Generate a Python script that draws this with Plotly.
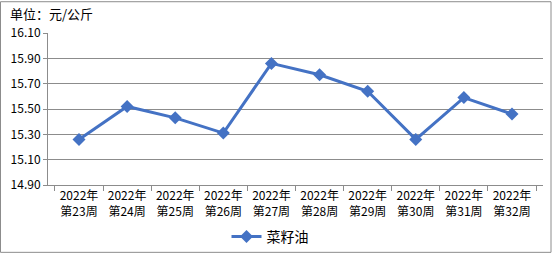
import plotly.graph_objects as go

categories = ["2022年<br>第23周", "2022年<br>第24周", "2022年<br>第25周", "2022年<br>第26周",
              "2022年<br>第27周", "2022年<br>第28周", "2022年<br>第29周", "2022年<br>第30周",
              "2022年<br>第31周", "2022年<br>第32周"]
rapeseed_oil = [15.26, 15.52, 15.43, 15.31, 15.86, 15.77, 15.64, 15.26, 15.59, 15.46]
y_ticks = [14.90, 15.10, 15.30, 15.50, 15.70, 15.90, 16.10]

W, H = 552, 262
L, R, T, B = 48, 9, 33, 71
pw, ph = W - L - R, H - T - B

def px(x):
    return (x - L) / pw

def py(y):
    return (H - B - y) / ph

font = "Noto Sans CJK SC, SimSun, sans-serif"
color = "#4472C4"
grid = "#8C8C8C"

fig = go.Figure()
fig.add_trace(go.Scatter(
    x=categories, y=rapeseed_oil, mode="lines+markers", name="菜籽油",
    line=dict(color=color, width=3),
    marker=dict(symbol="diamond", size=10, color=color),
))

fig.update_layout(
    width=W, height=H,
    margin=dict(l=L, r=R, t=T, b=B, pad=0),
    paper_bgcolor="white", plot_bgcolor="white",
    font=dict(family=font, size=12, color="black"),
    showlegend=True,
    legend=dict(orientation="h", x=px(270), y=py(245), xanchor="center", yanchor="middle",
                font=dict(size=14), bgcolor="rgba(0,0,0,0)", itemwidth=30),
    xaxis=dict(type="category", tickson="boundaries", ticks="outside", ticklen=5,
               tickcolor=grid, showline=True, linecolor=grid, linewidth=1,
               showgrid=False, tickfont=dict(size=12), fixedrange=True),
    yaxis=dict(range=[14.90, 16.10], tickvals=y_ticks, tickformat=".2f",
               ticks="outside", ticklen=4, tickcolor=grid, showline=True, linecolor=grid,
               showgrid=True, gridcolor=grid, gridwidth=1, zeroline=False,
               tickfont=dict(size=12), fixedrange=True),
    shapes=[dict(type="rect", xref="paper", yref="paper",
                 x0=px(0.5), x1=px(W - 1), y0=py(H - 1), y1=py(0.5),
                 line=dict(color=grid, width=1), fillcolor="rgba(0,0,0,0)", layer="below")],
    annotations=[dict(text="单位：元/公斤", xref="paper", yref="paper",
                      x=px(8), y=py(13), xanchor="left", yanchor="middle",
                      showarrow=False, font=dict(size=13))],
)

fig.write_html("out.html")
